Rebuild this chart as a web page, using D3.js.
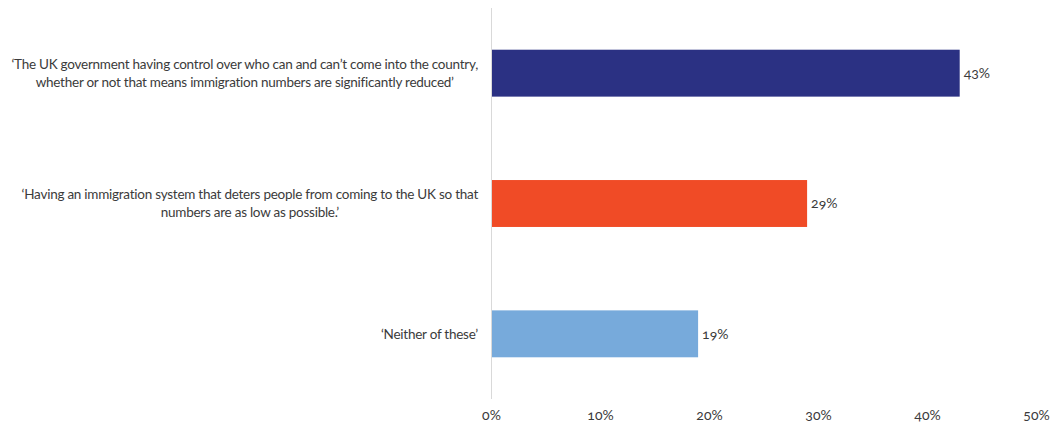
<!DOCTYPE html>
<html>
<head>
<meta charset="utf-8">
<script src="https://cdn.jsdelivr.net/npm/d3@7"></script>
<style>
  html, body { margin: 0; padding: 0; background: #fff; }
  svg text { font-family: Lato, "Open Sans", sans-serif; fill: #3b3b3b; font-variant-numeric: oldstyle-nums; font-feature-settings: "onum" 1; }
</style>
</head>
<body>
<svg id="chart" width="1051" height="428"></svg>
<script>
// Statements shown to respondents (each entry is a list of wrapped lines)
const categories = [
  ["‘The UK government having control over who can and can’t come into the country,",
   "whether or not that means immigration numbers are significantly reduced’"],
  ["‘Having an immigration system that deters people from coming to the UK so that",
   "numbers are as low as possible.’"],
  ["‘Neither of these’"]
];
const values = [43, 29, 19];
const barColors = ["#2b3183", "#f04b26", "#77aadb"];
const tickValues = [0, 10, 20, 30, 40, 50];

const svg = d3.select("#chart");
const x = d3.scaleLinear().domain([0, 50]).range([491, 1036]);
const y = d3.scaleBand().domain(d3.range(categories.length)).range([8, 399]).paddingInner(0.64).paddingOuter(0.32);

// bars
svg.selectAll("rect.bar").data(values).join("rect")
  .attr("class", "bar")
  .attr("x", x(0))
  .attr("y", (d, i) => y(i))
  .attr("width", d => x(d) - x(0))
  .attr("height", y.bandwidth())
  .attr("fill", (d, i) => barColors[i]);

// value labels
svg.selectAll("text.val").data(values).join("text")
  .attr("class", "val")
  .attr("x", d => x(d) + 4)
  .attr("y", (d, i) => y(i) + y.bandwidth() / 2)
  .attr("dy", "0.35em")
  .style("font-size", "14px")
  .text(d => d + "%");

// vertical axis line
svg.append("line")
  .attr("x1", x(0) + 0.5).attr("x2", x(0) + 0.5)
  .attr("y1", 8).attr("y2", 399)
  .attr("stroke", "#d9d9d9").attr("stroke-width", 1);

// x axis tick labels
const xAxis = d3.axisBottom(x).tickValues(tickValues).tickFormat(d => d + "%").tickSize(0).tickPadding(0);
const gx = svg.append("g").attr("transform", "translate(0,410)").call(xAxis);
gx.select(".domain").remove();
gx.selectAll("text").attr("dy", "0.71em").style("font-size", "14px").style("font-family", null);

// category labels: lines centred within a block right-aligned next to the axis
const labelRight = 478;
const lineH = 18;
categories.forEach((lines, i) => {
  const g = svg.append("g");
  const cy = y(i) + y.bandwidth() / 2;
  const texts = lines.map((ln, j) => g.append("text")
    .style("font-size", "13.5px")
    .style("letter-spacing", "-0.25px")
    .attr("text-anchor", "middle")
    .attr("y", cy + (j - (lines.length - 1) / 2) * lineH)
    .attr("dy", "0.35em")
    .text(ln));
  const w = d3.max(texts, t => t.node().getComputedTextLength());
  texts.forEach(t => t.attr("x", labelRight - w / 2));
});
</script>
</body>
</html>
